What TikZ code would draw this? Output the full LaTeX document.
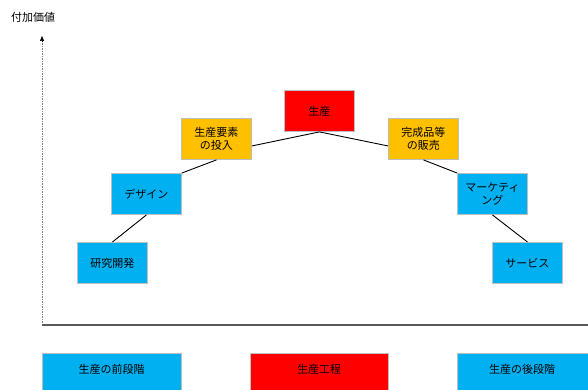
\documentclass[tikz,border=0pt]{standalone}
\usepackage{fontspec}
\setmainfont{Noto Sans CJK JP}
\usetikzlibrary{arrows.meta}
\definecolor{cblue}{HTML}{00B0F0}
\definecolor{corange}{HTML}{FFC000}
\definecolor{cred}{HTML}{FF0000}
\definecolor{cborder}{HTML}{BFBFBF}
\begin{document}
\begin{tikzpicture}[x=1pt,y=-1pt,
  box/.style={draw=cborder, line width=0.9pt, minimum width=70pt, minimum height=41pt, inner sep=0pt, align=center, font=\fontsize{11}{13}\selectfont, anchor=north west},
  link/.style={draw=black, line width=0.9pt},
  lbl/.style={font=\fontsize{11}{13}\selectfont, inner sep=0pt}]
\useasboundingbox (0,0) rectangle (588,390);
\node[lbl] (title) at (33,17) {付加価値};
% axes
\coordinate (ytop) at (42,36);
\coordinate (origin) at (42,325);
\coordinate (xend) at (588,325);
\draw[gray, line width=0.7pt, dash pattern=on 1.5pt off 1pt] (origin) -- (42,40);
\draw[black, -{Triangle[length=5pt,width=4pt]}, line width=0.5pt] (42,41) -- (ytop);
\draw[black!65, line width=1.3pt] (origin) -- (xend);
% boxes
\node[box, fill=cred] (seisan) at (284,90) {生産};
\node[box, fill=corange] (ys) at (181,118) {生産要素\\の投入};
\node[box, fill=corange] (kansei) at (388,118) {完成品等\\の販売};
\node[box, fill=cblue] (design) at (111,173) {デザイン};
\node[box, fill=cblue] (mkt) at (457,173) {マーケティ\\ング};
\node[box, fill=cblue] (kenkyu) at (77,242) {研究開発};
\node[box, fill=cblue] (service) at (492,242) {サービス};
% links
\draw[link] (seisan.south) -- ([yshift=-7pt]ys.east);
\draw[link] (seisan.south) -- ([yshift=-7pt]kansei.west);
\draw[link] (ys.south) -- (design.north east);
\draw[link] (design.south) -- (kenkyu.north);
\draw[link] (kansei.south) -- (mkt.north west);
\draw[link] (mkt.south) -- (service.north);
% bottom bands
\begin{scope}
\clip (0,0) rectangle (588,390);
\draw[draw=cborder, line width=0.9pt, fill=cblue] (42,353) rectangle (181,400);
\draw[draw=cborder, line width=0.9pt, fill=cred] (250,353) rectangle (388,400);
\draw[draw=cborder, line width=0.9pt, fill=cblue] (457,353) rectangle (600,400);
\end{scope}
\node[lbl] (pre) at (111.5,369) {生産の前段階};
\node[lbl] (proc) at (319,369) {生産工程};
\node[lbl] (post) at (522,369) {生産の後段階};
\end{tikzpicture}
\end{document}
